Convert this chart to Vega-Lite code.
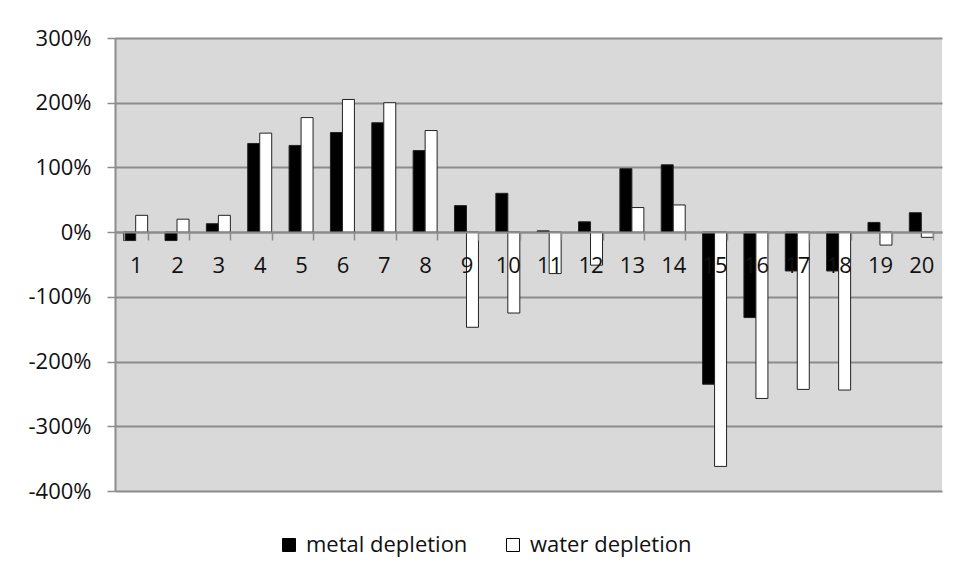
{
  "$schema": "https://vega.github.io/schema/vega-lite/v6.json",
  "width": 827,
  "height": 453,
  "autosize": {"type": "none"},
  "padding": {"left": 115, "top": 38, "right": 15, "bottom": 89},
  "background": "white",
  "config": {
    "view": {"fill": "#d9d9d9", "stroke": null},
    "font": "Open Sans"
  },
  "data": {
    "values": [
      {"cat": "1", "series": "metal depletion", "value": -13},
      {"cat": "1", "series": "water depletion", "value": 26},
      {"cat": "2", "series": "metal depletion", "value": -13},
      {"cat": "2", "series": "water depletion", "value": 20},
      {"cat": "3", "series": "metal depletion", "value": 13},
      {"cat": "3", "series": "water depletion", "value": 26},
      {"cat": "4", "series": "metal depletion", "value": 137},
      {"cat": "4", "series": "water depletion", "value": 153},
      {"cat": "5", "series": "metal depletion", "value": 134},
      {"cat": "5", "series": "water depletion", "value": 177},
      {"cat": "6", "series": "metal depletion", "value": 154},
      {"cat": "6", "series": "water depletion", "value": 205},
      {"cat": "7", "series": "metal depletion", "value": 169},
      {"cat": "7", "series": "water depletion", "value": 200},
      {"cat": "8", "series": "metal depletion", "value": 126},
      {"cat": "8", "series": "water depletion", "value": 157},
      {"cat": "9", "series": "metal depletion", "value": 41},
      {"cat": "9", "series": "water depletion", "value": -147},
      {"cat": "10", "series": "metal depletion", "value": 60},
      {"cat": "10", "series": "water depletion", "value": -125},
      {"cat": "11", "series": "metal depletion", "value": 2},
      {"cat": "11", "series": "water depletion", "value": -64},
      {"cat": "12", "series": "metal depletion", "value": 16},
      {"cat": "12", "series": "water depletion", "value": -51},
      {"cat": "13", "series": "metal depletion", "value": 98},
      {"cat": "13", "series": "water depletion", "value": 38},
      {"cat": "14", "series": "metal depletion", "value": 104},
      {"cat": "14", "series": "water depletion", "value": 42},
      {"cat": "15", "series": "metal depletion", "value": -235},
      {"cat": "15", "series": "water depletion", "value": -362},
      {"cat": "16", "series": "metal depletion", "value": -132},
      {"cat": "16", "series": "water depletion", "value": -257},
      {"cat": "17", "series": "metal depletion", "value": -60},
      {"cat": "17", "series": "water depletion", "value": -243},
      {"cat": "18", "series": "metal depletion", "value": -60},
      {"cat": "18", "series": "water depletion", "value": -244},
      {"cat": "19", "series": "metal depletion", "value": 15},
      {"cat": "19", "series": "water depletion", "value": -20},
      {"cat": "20", "series": "metal depletion", "value": 30},
      {"cat": "20", "series": "water depletion", "value": -8}
    ]
  },
  "mark": {"type": "bar", "stroke": "#222222", "strokeWidth": 1},
  "encoding": {
    "x": {
      "field": "cat",
      "type": "ordinal",
      "sort": null,
      "scale": {"paddingInner": 0.42, "paddingOuter": 0.21},
      "axis": {
        "title": null,
        "orient": "bottom",
        "offset": -259,
        "labelAngle": 0,
        "labelFontSize": 22,
        "labelColor": "#111111",
        "labelPadding": 15,
        "tickBand": "extent",
        "tickSize": 8,
        "tickColor": "#8c8c8c",
        "tickWidth": 1.5,
        "domainColor": "#8c8c8c",
        "domainWidth": 2,
        "grid": false,
        "zindex": 1
      }
    },
    "xOffset": {"field": "series", "type": "nominal", "scale": {"paddingInner": 0, "paddingOuter": 0}},
    "y": {
      "field": "value",
      "type": "quantitative",
      "scale": {"domain": [-400, 300], "nice": false},
      "axis": {
        "title": null,
        "values": [-400, -300, -200, -100, 0, 100, 200, 300],
        "labelExpr": "datum.value + '%'",
        "labelFontSize": 22,
        "labelColor": "#111111",
        "labelPadding": 16,
        "tickSize": 8,
        "tickColor": "#8c8c8c",
        "tickWidth": 1.5,
        "domainColor": "#8c8c8c",
        "domainWidth": 2,
        "gridColor": "#8c8c8c",
        "gridWidth": 2
      }
    },
    "fill": {
      "field": "series",
      "type": "nominal",
      "scale": {"domain": ["metal depletion", "water depletion"], "range": ["#000000", "#ffffff"]},
      "legend": {
        "title": null,
        "orient": "none",
        "direction": "horizontal",
        "legendX": 163,
        "legendY": 496,
        "symbolType": "square",
        "symbolSize": 169,
        "symbolStrokeColor": "#000000",
        "symbolStrokeWidth": 1,
        "labelFontSize": 22,
        "labelLimit": 400,
        "labelColor": "#111111",
        "labelOffset": 6,
        "columnPadding": 34
      }
    }
  }
}
